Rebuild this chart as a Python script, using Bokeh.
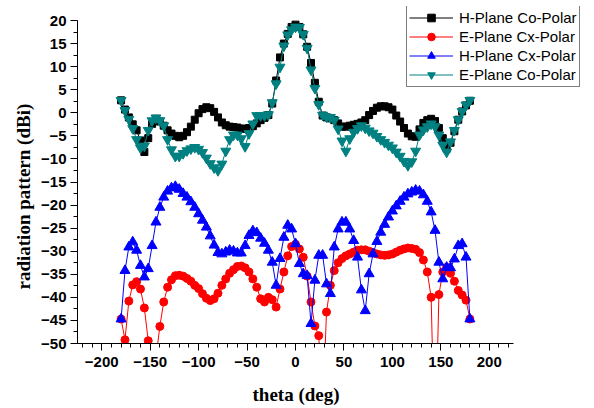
from bokeh.plotting import figure
from bokeh.models import Legend, LegendItem, SingleIntervalTicker, Range1d, Title
from bokeh.embed import file_html
from bokeh.resources import INLINE

# sampling angle (deg), 4 degree step
theta = [-180, -176, -172, -168, -164, -160, -156, -152, -148, -144,
         -140, -136, -132, -128, -124, -120, -116, -112, -108, -104,
         -100, -96, -92, -88, -84, -80, -76, -72, -68, -64,
         -60, -56, -52, -48, -44, -40, -36, -32, -28, -24,
         -20, -16, -12, -8, -4, 0, 4, 8, 12, 16,
         20, 24, 28, 32, 36, 40, 44, 48, 52, 56,
         60, 64, 68, 72, 76, 80, 84, 88, 92, 96,
         100, 104, 108, 112, 116, 120, 124, 128, 132, 136,
         140, 144, 148, 152, 156, 160, 164, 168, 172, 176,
         180]

h_co = [2.7, 0.7, -1.0, -2.5, -3.8, -6.0, -8.5, -5.5, -2.4, -1.3,
        -1.9, -2.8, -3.8, -4.5, -5.0, -5.3, -5.0, -4.2, -3.0, -1.5,
        -0.1, 0.8, 1.2, 1.0, 0.2, -1.0, -2.1, -2.7, -3.0, -3.1,
        -3.2, -3.4, -3.5, -3.3, -2.9, -2.3, -1.6, -1.1, -0.5, 2.0,
        7.0, 12.0, 15.0, 17.1, 18.6, 19.1, 18.6, 17.0, 14.3, 10.8,
        6.5, 2.4, -0.6, -1.0, -1.2, -1.6, -2.3, -3.0, -3.0, -2.8,
        -2.6, -2.4, -2.1, -1.6, -0.5, 0.4, 1.1, 1.4, 1.4, 1.2,
        0.7, -0.6, -1.9, -3.3, -4.5, -5.1, -5.2, -3.6, -2.2, -1.6,
        -1.3, -1.8, -3.3, -5.5, -7.8, -6.5, -4.0, -1.5, 0.3, 1.6,
        2.6]

e_cx = [-44.7, -49.2, -40.8, -37.3, -36.6, -38.2, -42.3, -49.4, -51.5, -53.0,
        -46.3, -41.0, -37.8, -36.2, -35.3, -35.2, -35.4, -35.9, -36.5, -37.4,
        -38.1, -39.2, -40.2, -40.7, -40.3, -39.1, -37.4, -36.0, -34.8, -34.0,
        -33.3, -33.2, -33.6, -34.5, -36.0, -37.8, -40.3, -41.0, -40.0, -40.5,
        -42.1, -38.2, -34.5, -31.0, -29.0, -28.5, -29.5, -31.3, -35.4, -41.0,
        -46.2, -48.3, -65.0, -43.2, -37.4, -34.2, -32.5, -31.6, -31.0, -30.6,
        -30.2, -29.8, -29.7, -29.7, -30.0, -30.3, -30.6, -30.8, -30.9, -30.8,
        -30.6, -30.2, -29.8, -29.5, -29.3, -29.4, -29.6, -30.3, -31.9, -34.5,
        -40.0, -75.0, -39.4, -34.5, -33.5, -34.8, -36.5, -38.5, -39.5, -40.6,
        -44.7]

h_cx = [-44.7, -34.2, -29.1, -28.0, -29.8, -33.1, -35.6, -33.8, -28.8, -23.7,
        -20.5, -18.3, -17.0, -16.3, -16.0, -16.6, -17.5, -18.3, -19.3, -20.5,
        -21.9, -23.3, -24.8, -26.7, -28.7, -30.3, -30.6, -30.2, -29.8, -30.0,
        -30.4, -30.4, -28.8, -26.6, -25.6, -26.0, -27.2, -28.3, -29.8, -32.4,
        -37.4, -31.6, -27.0, -24.4, -25.2, -28.4, -32.7, -34.9, -35.3, -45.7,
        -36.3, -30.9, -30.9, -37.1, -39.2, -29.1, -25.2, -23.7, -23.7, -25.2,
        -27.7, -31.3, -38.4, -42.9, -34.9, -30.6, -27.9, -25.9, -24.2, -22.6,
        -21.3, -20.2, -19.2, -18.3, -17.6, -17.2, -16.8, -17.0, -17.8, -19.2,
        -21.5, -25.5, -32.4, -36.0, -33.5, -33.6, -31.7, -28.8, -28.4, -31.3,
        -44.7]

e_co = [2.7, 0.5, -1.4, -3.4, -5.8, -7.6, -7.2, -3.8, -1.7, -1.1,
        -1.7, -2.8, -5.8, -8.0, -9.4, -9.4, -8.8, -8.2, -7.8, -7.5,
        -7.9, -8.6, -9.8, -11.0, -11.9, -12.5, -11.1, -8.3, -5.8, -4.8,
        -4.8, -5.6, -7.3, -4.5, -2.4, -0.6, -0.6, -0.6, -0.4, 2.2,
        6.3, 9.9, 14.5, 16.9, 18.0, 18.6, 18.5, 17.0, 14.0, 9.3,
        5.3, 1.8, -0.5, -0.9, -1.0, -1.6, -3.5, -6.1, -8.3, -5.6,
        -4.2, -3.4, -2.8, -3.3, -3.9, -4.4, -5.1, -5.8, -6.4, -7.0,
        -7.6, -8.5, -9.4, -10.5, -11.4, -10.6, -8.3, -4.8, -3.7, -3.0,
        -2.4, -3.0, -4.8, -7.0, -8.5, -6.3, -3.8, -1.5, 0.3, 1.7,
        2.7]

series_labels = ["H-Plane Co-Polar", "E-Plane Cx-Polar", "H-Plane Cx-Polar", "E-Plane Co-Polar"]
x_axis_span = (-225, 225)
y_axis_span = (-50, 20)
x_ticks_major = 50
y_ticks_major = 5

# frame: 436 px for 450 deg, 323 px for 70 dB; extended right/up to hold the legend
px_per_deg = 436 / 450
px_per_db = 323 / 70
frame_w = 517
frame_h = 337

p = figure(width=594, height=408, output_backend="svg", toolbar_location=None,
           x_range=Range1d(x_axis_span[0], x_axis_span[0] + frame_w / px_per_deg),
           y_range=Range1d(y_axis_span[0], y_axis_span[0] + frame_h / px_per_db),
           frame_width=frame_w, frame_height=frame_h,
           min_border_left=77, min_border_right=0, min_border_top=6, min_border_bottom=65)
p.outline_line_color = None
p.xgrid.grid_line_color = None
p.ygrid.grid_line_color = None
p.background_fill_color = "white"
p.border_fill_color = "white"

p.xaxis.ticker = SingleIntervalTicker(interval=x_ticks_major, num_minor_ticks=5)
p.yaxis.ticker = SingleIntervalTicker(interval=y_ticks_major, num_minor_ticks=2)
p.xaxis.bounds = x_axis_span
p.yaxis.bounds = y_axis_span

for ax in (p.xaxis[0], p.yaxis[0]):
    ax.axis_line_color = "black"
    ax.axis_line_width = 1
    ax.major_tick_in = 0
    ax.major_tick_out = 7
    ax.minor_tick_in = 0
    ax.minor_tick_out = 4
    ax.major_tick_line_color = "black"
    ax.minor_tick_line_color = "black"
    ax.major_label_text_font = "Liberation Sans"
    ax.major_label_text_font_style = "bold"
    ax.major_label_text_font_size = "15px"
    ax.major_label_text_color = "black"
    ax.major_label_standoff = 4
p.xaxis.major_label_standoff = 6

xt = Title(text="theta (deg)", align="left", offset=175,
           text_font="Liberation Serif", text_font_style="bold",
           text_font_size="19px", text_color="black", standoff=24)
p.add_layout(xt, "below")
yt = Title(text="radiation pattern (dBi)", align="left", offset=54,
           text_font="Liberation Serif", text_font_style="bold",
           text_font_size="19px", text_color="black", standoff=10)
p.add_layout(yt, "left")

l1 = p.line(theta, h_co, line_color="black", line_width=1)
s1 = p.scatter(theta, h_co, marker="square", size=7, fill_color="black", line_color="black")
l2 = p.line(theta, e_cx, line_color="red", line_width=1)
s2 = p.scatter(theta, e_cx, marker="circle", size=8, fill_color="red", line_color="red")
l3 = p.line(theta, h_cx, line_color="blue", line_width=1)
s3 = p.scatter(theta, h_cx, marker="triangle", size=10, fill_color="blue", line_color="blue")
l4 = p.line(theta, e_co, line_color="#008080", line_width=1)
s4 = p.scatter(theta, e_co, marker="inverted_triangle", size=10, fill_color="#008080", line_color="#008080")

legend = Legend(items=[
    LegendItem(label=series_labels[0], renderers=[l1, s1]),
    LegendItem(label=series_labels[1], renderers=[l2, s2]),
    LegendItem(label=series_labels[2], renderers=[l3, s3]),
    LegendItem(label=series_labels[3], renderers=[l4, s4]),
], location=(329, 256))
legend.border_line_color = "black"
legend.border_line_width = 1
legend.background_fill_color = "white"
legend.background_fill_alpha = 1
legend.padding = 2
legend.spacing = 0
legend.margin = 0
legend.label_height = 19
legend.glyph_height = 19
legend.glyph_width = 44
legend.label_standoff = 6
legend.label_text_font = "Liberation Sans"
legend.label_text_font_size = "15px"
legend.label_text_color = "black"
p.add_layout(legend)

open("out.html", "w").write(file_html(p, INLINE))
